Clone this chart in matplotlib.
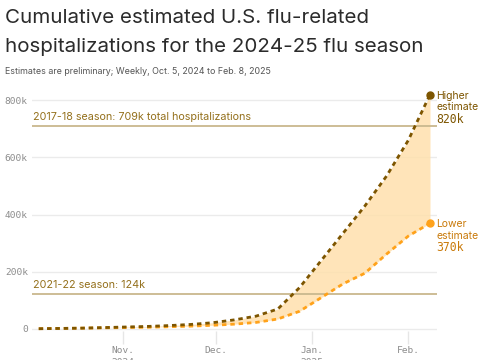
import numpy as np
import matplotlib.pyplot as plt
import matplotlib.dates as mdates

# weekly estimates, Oct. 5, 2024 to Feb. 8, 2025
weeks = np.arange('2024-10-05', '2025-02-09', 7, dtype='datetime64[D]')
higher = [1, 2, 3, 5, 7, 9, 12, 16, 22, 32, 45, 70, 145, 240, 335, 430, 535, 660, 820]
lower = [1, 2, 3, 4, 5, 6, 8, 10, 13, 17, 23, 35, 62, 110, 158, 195, 262, 325, 370]
higher = np.array(higher) * 1000
lower = np.array(lower) * 1000

ref_vals = [709000, 124000]
ref_labels = ['2017-18 season: 709k total hospitalizations', '2021-22 season: 124k']
yticks = [0, 200000, 400000, 600000, 800000]
ytick_labels = ['0', '200k', '400k', '600k', '800k']
xticks = np.array(['2024-11-01', '2024-12-01', '2025-01-01', '2025-02-01'], dtype='datetime64[D]')
xtick_labels = ['Nov.\n2024', 'Dec.', 'Jan.\n2025', 'Feb.']

plt.rcParams['font.family'] = ['Inter', 'DejaVu Sans']
mono = 'DejaVu Sans Mono'

hi_col = '#7d5500'
lo_col = '#ffa21a'
lo_txt = '#c97a0a'
fill_col = '#ffe0ad'
ref_col = '#c9b88e'
ref_txt = '#94701c'
grey = '#8c8c8c'

fig = plt.figure(figsize=(4.85, 3.6), dpi=100)
ax = fig.add_axes([32 / 485, (360 - 331) / 360, 405 / 485, 241 / 360])

ax.fill_between(weeks, lower, higher, color=fill_col, alpha=0.85, lw=0, zorder=2)
for v, lab in zip(ref_vals, ref_labels):
    ax.axhline(v, color=ref_col, lw=1.3, zorder=3)
    ax.text(mdates.date2num(np.datetime64('2024-10-03')), v + 14000, lab, color=ref_txt,
            fontsize=7.75, va='bottom', ha='left', zorder=4)

ax.plot(weeks, lower, color=lo_col, lw=2, dashes=(1.6, 1.4), zorder=5)
ax.plot(weeks, higher, color=hi_col, lw=2, dashes=(1.6, 1.4), zorder=6)
ax.plot(weeks[-1], higher[-1], 'o', color=hi_col, ms=5, zorder=7)
ax.plot(weeks[-1], lower[-1], 'o', color=lo_col, ms=5, zorder=7)

# end labels, one text per row
xend = mdates.date2num(weeks[-1]) + 2.1
for val, col, word in [(higher[-1], hi_col, 'Higher'), (lower[-1], lo_txt, 'Lower')]:
    ax.text(xend, val - 4000, word, color=col, fontsize=7.5, va='center', ha='left', clip_on=False)
    ax.text(xend, val - 44000, 'estimate', color=col, fontsize=7.5, va='center', ha='left', clip_on=False)
    ax.text(xend, val - 86000, f'{val // 1000}k', color=col, fontsize=8.3, family=mono,
            va='center', ha='left', clip_on=False)

ax.set_xlim(np.datetime64('2024-10-02T20'), np.datetime64('2025-02-10T06'))
ax.set_ylim(-7000, 836000)
ax.set_yticks(yticks)
ax.set_yticklabels(ytick_labels, family=mono, fontsize=6.8, color=grey)
ax.set_xticks(xticks)
ax.set_xticklabels(xtick_labels, family=mono, fontsize=6.8, color=grey, linespacing=1.4)
ax.tick_params(axis='y', length=0, pad=3)
ax.tick_params(axis='x', length=9, color='#e6e6e6', width=1, pad=2)
ax.grid(axis='y', color='#ebebeb', lw=1, zorder=0)
for s in ax.spines.values():
    s.set_visible(False)

fig.text(5 / 485, 1 - 18 / 360, 'Cumulative estimated U.S. flu-related', fontsize=14.8,
         color='#2b2b2b', va='center', ha='left')
fig.text(5 / 485, 1 - 47 / 360, 'hospitalizations for the 2024-25 flu season', fontsize=14.8,
         color='#2b2b2b', va='center', ha='left')
fig.text(5 / 485, 1 - 72 / 360, 'Estimates are preliminary; Weekly, Oct. 5, 2024 to Feb. 8, 2025',
         fontsize=6.4, color='#555555', va='center', ha='left')

fig.savefig('out.png', dpi=100)
